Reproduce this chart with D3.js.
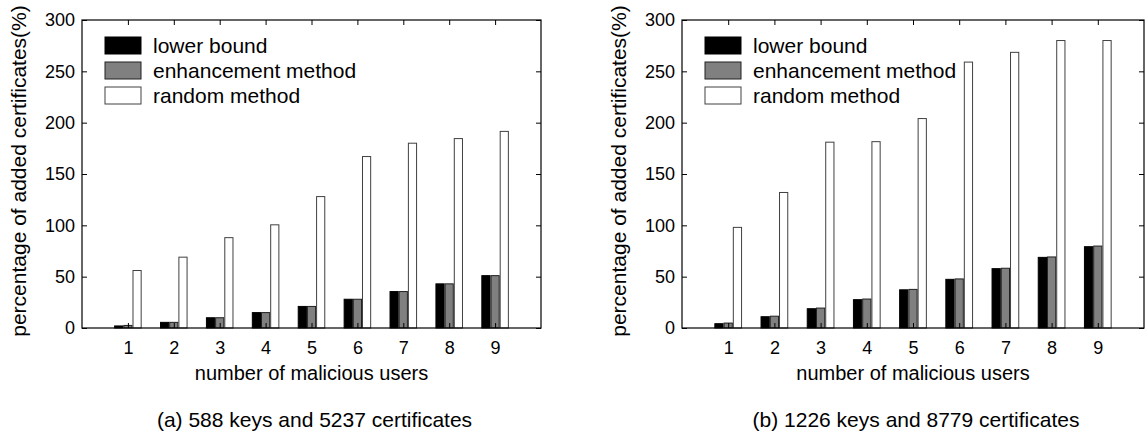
<!DOCTYPE html>
<html>
<head>
<meta charset="utf-8">
<script src="https://cdn.jsdelivr.net/npm/d3@7"></script>
<style>
  body { margin: 0; background: #fff; }
  text { font-family: "Liberation Sans", Arial, sans-serif; fill: #000; }
</style>
</head>
<body>
<div id="chart"></div>
<script>
const W = 1146, H = 433;

// data
const users = [1, 2, 3, 4, 5, 6, 7, 8, 9];
const seriesNames = ["lower bound", "enhancement method", "random method"];
const yTicks = [0, 50, 100, 150, 200, 250, 300];

const lowerA = [2, 5.5, 10, 15, 21, 28, 35.5, 43, 51];
const enhanceA = [2.5, 5.5, 10, 15, 21, 28, 35.5, 43, 51];
const randomA = [56, 69, 88, 100.5, 128, 167, 180, 184.5, 191.5];

const lowerB = [4.2, 11, 18.8, 27.6, 37.2, 47.4, 57.8, 68.8, 79.2];
const enhanceB = [4.8, 11.5, 19.4, 28.2, 37.6, 47.8, 58.2, 69.2, 79.8];
const randomB = [98, 132, 181, 181.5, 204, 259, 268.5, 280, 280];

const captions = ["(a) 588 keys and 5237 certificates", "(b) 1226 keys and 8779 certificates"];

const fills = ["#000000", "#808080", "#ffffff"];
const strokes = ["#000000", "#202020", "#404040"];

const svg = d3.select("#chart").append("svg")
  .attr("width", W).attr("height", H);

function panel(x0, x1, series, caption) {
  const top = 20, bottom = 328;
  const x = d3.scaleLinear().domain([0, 10]).range([x0, x1]);
  const y = d3.scaleLinear().domain([0, 300]).range([bottom, top]);
  const bw = (x(1) - x(0)) / 5;

  const g = svg.append("g");

  // bars
  series.forEach((vals, si) => {
    g.selectAll(null)
      .data(users.map((u, i) => ({ u, v: vals[i] })))
      .enter().append("rect")
      .attr("x", d => x(d.u) + (si - 1.5) * bw + 0.5)
      .attr("y", d => y(d.v))
      .attr("width", bw - 1)
      .attr("height", d => y(0) - y(d.v))
      .attr("fill", fills[si])
      .attr("stroke", strokes[si])
      .attr("stroke-width", 1);
  });

  // frame
  g.append("rect")
    .attr("x", x0).attr("y", top)
    .attr("width", x1 - x0).attr("height", bottom - top)
    .attr("fill", "none").attr("stroke", "#000").attr("stroke-width", 1.2);

  // y ticks (both sides, inward)
  const yAxisL = d3.axisLeft(y).tickValues(yTicks).tickSizeInner(-5).tickSizeOuter(0).tickPadding(7);
  const gl = g.append("g").attr("transform", `translate(${x0},0)`).call(yAxisL);
  gl.select(".domain").remove();
  gl.selectAll("text").style("font-size", "18px").attr("fill", "#000");

  const yAxisR = d3.axisRight(y).tickValues(yTicks).tickSizeInner(-5).tickSizeOuter(0).tickFormat("");
  const gr = g.append("g").attr("transform", `translate(${x1},0)`).call(yAxisR);
  gr.select(".domain").remove();

  // x ticks (bottom labels, top ticks)
  const xAxisB = d3.axisBottom(x).tickValues(users).tickSizeInner(-5).tickSizeOuter(0).tickPadding(13);
  const gb = g.append("g").attr("transform", `translate(0,${bottom})`).call(xAxisB);
  gb.select(".domain").remove();
  gb.selectAll("text").style("font-size", "18px").attr("fill", "#000");

  const xAxisT = d3.axisTop(x).tickValues(users).tickSizeInner(-5).tickSizeOuter(0).tickFormat("");
  const gt = g.append("g").attr("transform", `translate(0,${top})`).call(xAxisT);
  gt.select(".domain").remove();

  g.selectAll(".tick line").attr("stroke", "#000");

  // axis titles
  g.append("text")
    .attr("x", (x0 + x1) / 2).attr("y", 380)
    .attr("text-anchor", "middle").style("font-size", "20px")
    .text("number of malicious users");

  g.append("text")
    .attr("transform", `translate(${x0 - 56},171) rotate(-90)`)
    .attr("text-anchor", "middle").style("font-size", "21px")
    .text("percentage of added certificates(%)");

  g.append("text")
    .attr("x", (x0 + x1) / 2 + 3).attr("y", 427)
    .attr("text-anchor", "middle").style("font-size", "21px")
    .text(caption);

  // legend
  seriesNames.forEach((name, si) => {
    const ly = 37 + si * 25;
    g.append("rect")
      .attr("x", x0 + 23).attr("y", ly)
      .attr("width", 36).attr("height", 17)
      .attr("fill", fills[si]).attr("stroke", strokes[si]);
    g.append("text")
      .attr("x", x0 + 71).attr("y", ly + 16)
      .style("font-size", "21px")
      .text(name);
  });
}

panel(82, 541, [lowerA, enhanceA, randomA], captions[0]);
panel(682, 1144, [lowerB, enhanceB, randomB], captions[1]);
</script>
</body>
</html>
